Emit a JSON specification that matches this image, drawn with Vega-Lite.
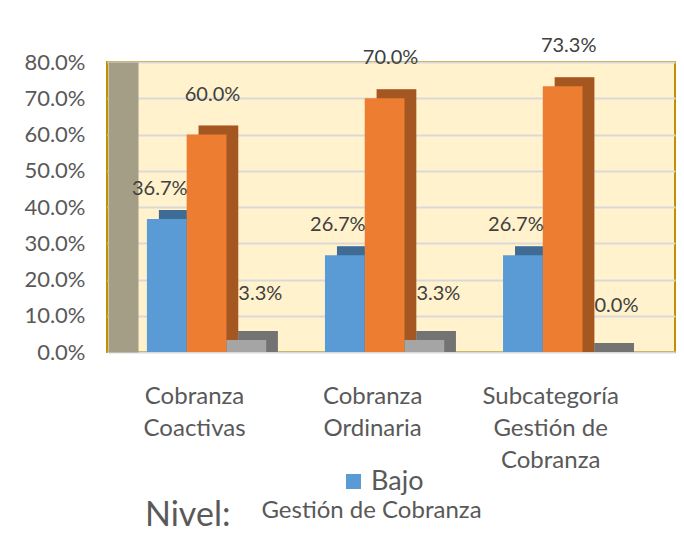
{
  "$schema": "https://vega.github.io/schema/vega-lite/v6.json",
  "width": 568,
  "height": 290,
  "autosize": "none",
  "padding": {"left": 107, "top": 62, "right": 9, "bottom": 206},
  "background": "white",
  "config": {
    "font": "Lato",
    "view": {"fill": "#FFF2CC", "stroke": "#BF9000", "strokeWidth": 2}
  },
  "title": {
    "text": "Nivel:",
    "orient": "bottom",
    "anchor": "start",
    "frame": "group",
    "dx": 38,
    "offset": -23,
    "fontSize": 34,
    "fontWeight": "normal",
    "color": "#595959",
    "font": "Lato"
  },
  "data": {
    "values": [
      {"cat": "Cobranza Coactivas", "serie": "Bajo", "v": 0.367},
      {"cat": "Cobranza Coactivas", "serie": "Medio", "v": 0.600},
      {"cat": "Cobranza Coactivas", "serie": "Alto", "v": 0.033},
      {"cat": "Cobranza Ordinaria", "serie": "Bajo", "v": 0.267},
      {"cat": "Cobranza Ordinaria", "serie": "Medio", "v": 0.700},
      {"cat": "Cobranza Ordinaria", "serie": "Alto", "v": 0.033},
      {"cat": "Subcategoría Gestión de Cobranza", "serie": "Bajo", "v": 0.267},
      {"cat": "Subcategoría Gestión de Cobranza", "serie": "Medio", "v": 0.733},
      {"cat": "Subcategoría Gestión de Cobranza", "serie": "Alto", "v": 0.000}
    ]
  },
  "encoding": {
    "x": {
      "field": "cat",
      "type": "nominal",
      "sort": null,
      "scale": {"paddingInner": 0.33, "paddingOuter": 0.26, "align": 0.431},
      "axis": {
        "title": "Gestión de Cobranza",
        "titleFontSize": 24,
        "titleFontWeight": "normal",
        "titleColor": "#595959",
        "titleX": 264,
        "titleY": 158,
        "titleBaseline": "middle",
        "labelAngle": 0,
        "labelFontSize": 24,
        "labelColor": "#595959",
        "labelLineHeight": 32,
        "labelPadding": 32,
        "labelOffset": -12,
        "labelExpr": "datum.value == 'Subcategoría Gestión de Cobranza' ? ['Subcategoría', 'Gestión de', 'Cobranza'] : split(datum.value, ' ')",
        "ticks": false,
        "domain": false,
        "grid": false
      }
    },
    "y": {
      "field": "v",
      "type": "quantitative",
      "scale": {"domain": [0, 0.8]},
      "axis": {
        "title": null,
        "format": ".1%",
        "values": [0, 0.1, 0.2, 0.3, 0.4, 0.5, 0.6, 0.7, 0.8],
        "labelFontSize": 22,
        "labelColor": "#595959",
        "labelPadding": 38,
        "offset": -16,
        "ticks": false,
        "domain": true,
        "domainColor": "#A59E86",
        "domainWidth": 30,
        "gridColor": "#D9D9D9",
        "gridWidth": 2
      }
    }
  },
  "resolve": {"scale": {"xOffset": "independent"}},
  "layer": [
    {
      "mark": {"type": "bar", "yOffset": -9, "y2Offset": 0},
      "encoding": {
        "y2": {"datum": 0},
        "xOffset": {"field": "serie", "type": "nominal", "sort": ["Bajo", "Medio", "Alto"], "scale": {"paddingInner": 0, "paddingOuter": 0, "range": [12, 131]}},
        "color": {
          "field": "serie",
          "type": "nominal",
          "scale": {"domain": ["Bajo", "Medio", "Alto"], "range": ["#5B9BD5", "#ED7D31", "#A5A5A5"]},
          "legend": {
            "values": ["Bajo"],
            "title": null,
            "orient": "none",
            "legendX": 233,
            "legendY": 406,
            "symbolType": "square",
            "symbolSize": 225,
            "symbolStrokeWidth": 0,
            "symbolOpacity": 1,
            "labelFontSize": 27,
            "labelColor": "#595959"
          }
        }
      }
    },
    {
      "mark": {"type": "bar", "yOffset": -9, "y2Offset": 0, "color": "#000000", "opacity": 0.3},
      "encoding": {
        "y2": {"datum": 0},
        "xOffset": {"field": "serie", "type": "nominal", "sort": ["Bajo", "Medio", "Alto"], "scale": {"paddingInner": 0, "paddingOuter": 0, "range": [12, 131]}}
      }
    },
    {
      "layer": [
        {
          "mark": {"type": "bar"},
          "encoding": {
            "color": {"field": "serie", "type": "nominal"}
          }
        },
        {
          "transform": [{"filter": "datum.serie == 'Bajo'"}],
          "mark": {"type": "text", "dy": -30, "dx": -7, "fontSize": 20, "color": "#404040"},
          "encoding": {"text": {"field": "v", "type": "quantitative", "format": ".1%"}}
        },
        {
          "transform": [{"filter": "datum.serie == 'Medio'"}],
          "mark": {"type": "text", "dy": -40, "dx": 6, "fontSize": 20, "color": "#404040"},
          "encoding": {"text": {"field": "v", "type": "quantitative", "format": ".1%"}}
        },
        {
          "transform": [{"filter": "datum.serie == 'Alto'"}],
          "mark": {"type": "text", "dy": -46, "dx": 14, "fontSize": 20, "color": "#404040"},
          "encoding": {"text": {"field": "v", "type": "quantitative", "format": ".1%"}}
        }
      ],
      "encoding": {
        "xOffset": {"field": "serie", "type": "nominal", "sort": ["Bajo", "Medio", "Alto"], "scale": {"paddingInner": 0, "paddingOuter": 0}}
      }
    }
  ]
}
